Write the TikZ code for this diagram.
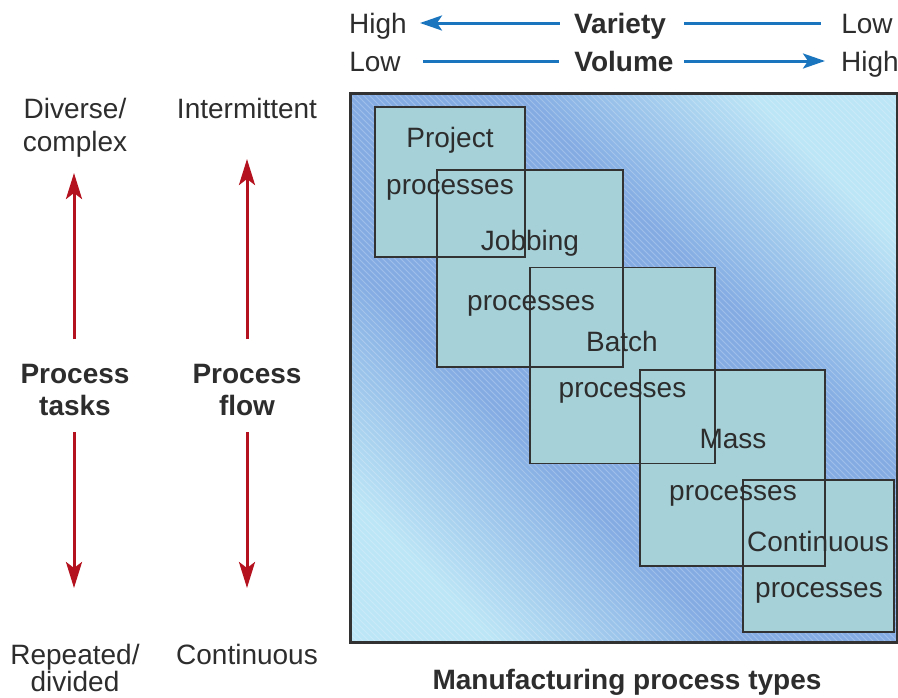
\documentclass[tikz,border=0pt]{standalone}
\usepackage{fontspec}
\setmainfont{Liberation Sans}
\usetikzlibrary{arrows.meta,shadings}
\definecolor{txt}{RGB}{45,45,45}
\definecolor{arrblue}{RGB}{27,117,190}
\definecolor{arrred}{RGB}{180,18,30}
\definecolor{boxfillc}{RGB}{166,209,216}
\definecolor{framedark}{RGB}{132,172,227}
\definecolor{framelight}{RGB}{188,229,246}
\definecolor{edge}{RGB}{50,50,50}
\pgfdeclarehorizontalshading{frameshade}{100bp}{color(0bp)=(framelight); color(24bp)=(framelight); color(39bp)=(framedark); color(61bp)=(framedark); color(76bp)=(framelight); color(100bp)=(framelight)}
\tikzset{
  lab/.style={font=\fontsize{28}{30}\selectfont, text=txt, anchor=base, inner sep=0pt},
  blab/.style={lab, font=\fontsize{28}{30}\selectfont\bfseries},
  bluearr/.style={draw=arrblue, line width=3pt, -{Stealth[length=22pt,width=15pt,inset=5pt]}},
  blueline/.style={draw=arrblue, line width=3pt},
  redarr/.style={draw=arrred, line width=3pt, -{Stealth[length=26pt,width=16pt,inset=6pt]}},
  boxfill/.style={fill=boxfillc, draw=none, inner sep=0pt, outer sep=0pt},
  boxline/.style={draw=edge, line width=1.6pt},
  stripe/.style={draw=white, line width=1pt, draw opacity=0.22},
}
\begin{document}
\begin{tikzpicture}[x=1pt,y=-1pt]
\useasboundingbox (0,0) rectangle (898,697);
% frame
\node[inner sep=0pt, outer sep=0pt, minimum width=547pt, minimum height=549pt,
      shading=frameshade, shading angle=45]
      (frame) at (623.5,367.5) {};
\begin{scope}
  \clip (frame.north west) rectangle (frame.south east);
  \foreach \i in {-560,-554,...,900}
    \draw[stripe] (\i,90) -- ++(610,610);
\end{scope}
% boxes (fills)
\node[boxfill, minimum width=150pt, minimum height=150pt] (pbox) at (450,182) {};
\node[boxfill, minimum width=186pt, minimum height=197pt] (jbox) at (530,268.5) {};
\node[boxfill, minimum width=185pt, minimum height=196pt] (bbox) at (622.5,365.5) {};
\node[boxfill, minimum width=185pt, minimum height=196pt] (mbox) at (732.5,468) {};
\node[boxfill, minimum width=151pt, minimum height=152pt] (cbox) at (818.5,556) {};
% box borders
\foreach \b in {pbox,jbox,bbox,mbox,cbox}
  \draw[boxline] (\b.north west) rectangle (\b.south east);
\draw[draw=edge, line width=3pt] (frame.north west) rectangle (frame.south east);
% box texts
\node[lab] (pt1) at (450,147) {Project};
\node[lab] (pt2) at (450,194) {processes};
\node[lab] (jt1) at (530,250) {Jobbing};
\node[lab] (jt2) at (531,310) {processes};
\node[lab] (bt1) at (622,351) {Batch};
\node[lab] (bt2) at (622.5,397) {processes};
\node[lab] (mt1) at (733,448) {Mass};
\node[lab] (mt2) at (733,500) {processes};
\node[lab] (ct1) at (818,551) {Continuous};
\node[lab] (ct2) at (819,597) {processes};
% top scales
\node[lab] (vhigh) at (378,33) {High};
\node[blab] (variety) at (620,33) {Variety};
\node[lab] (vlow) at (867,33) {Low};
\node[lab] (wlow) at (375,71) {Low};
\node[blab] (volume) at (624,71) {Volume};
\node[lab] (whigh) at (870,71) {High};
\coordinate (va) at (560,23);
\coordinate (vb) at (420,23);
\coordinate (vc) at (684,23);
\coordinate (vd) at (821,23);
\coordinate (wa) at (423,61);
\coordinate (wb) at (559,61);
\coordinate (wc) at (684,61);
\coordinate (wd) at (825,61);
\draw[bluearr] (va) -- (vb);
\draw[blueline] (vc) -- (vd);
\draw[blueline] (wa) -- (wb);
\draw[bluearr] (wc) -- (wd);
% left labels
\node[lab] (div1) at (75,118) {Diverse/};
\node[lab] (div2) at (75,151) {complex};
\node[lab] (inter) at (247,118) {Intermittent};
\node[blab] (ptask1) at (75,383) {Process};
\node[blab] (ptask2) at (75,415) {tasks};
\node[blab] (pflow1) at (247,383) {Process};
\node[blab] (pflow2) at (247,415) {flow};
\node[lab] (rep1) at (75,664) {Repeated/};
\node[lab] (rep2) at (75,691) {divided};
\node[lab] (cont) at (247,664) {Continuous};
\node[blab] (mpt) at (627,689) {Manufacturing process types};
\coordinate (ta) at (74,339);
\coordinate (tb) at (74,173);
\coordinate (tc) at (74,432);
\coordinate (td) at (74,588);
\coordinate (fa) at (247,339);
\coordinate (fb) at (247,159);
\coordinate (fc) at (247,432);
\coordinate (fd) at (247,588);
\draw[redarr] (ta) -- (tb);
\draw[redarr] (tc) -- (td);
\draw[redarr] (fa) -- (fb);
\draw[redarr] (fc) -- (fd);
\end{tikzpicture}
\end{document}
